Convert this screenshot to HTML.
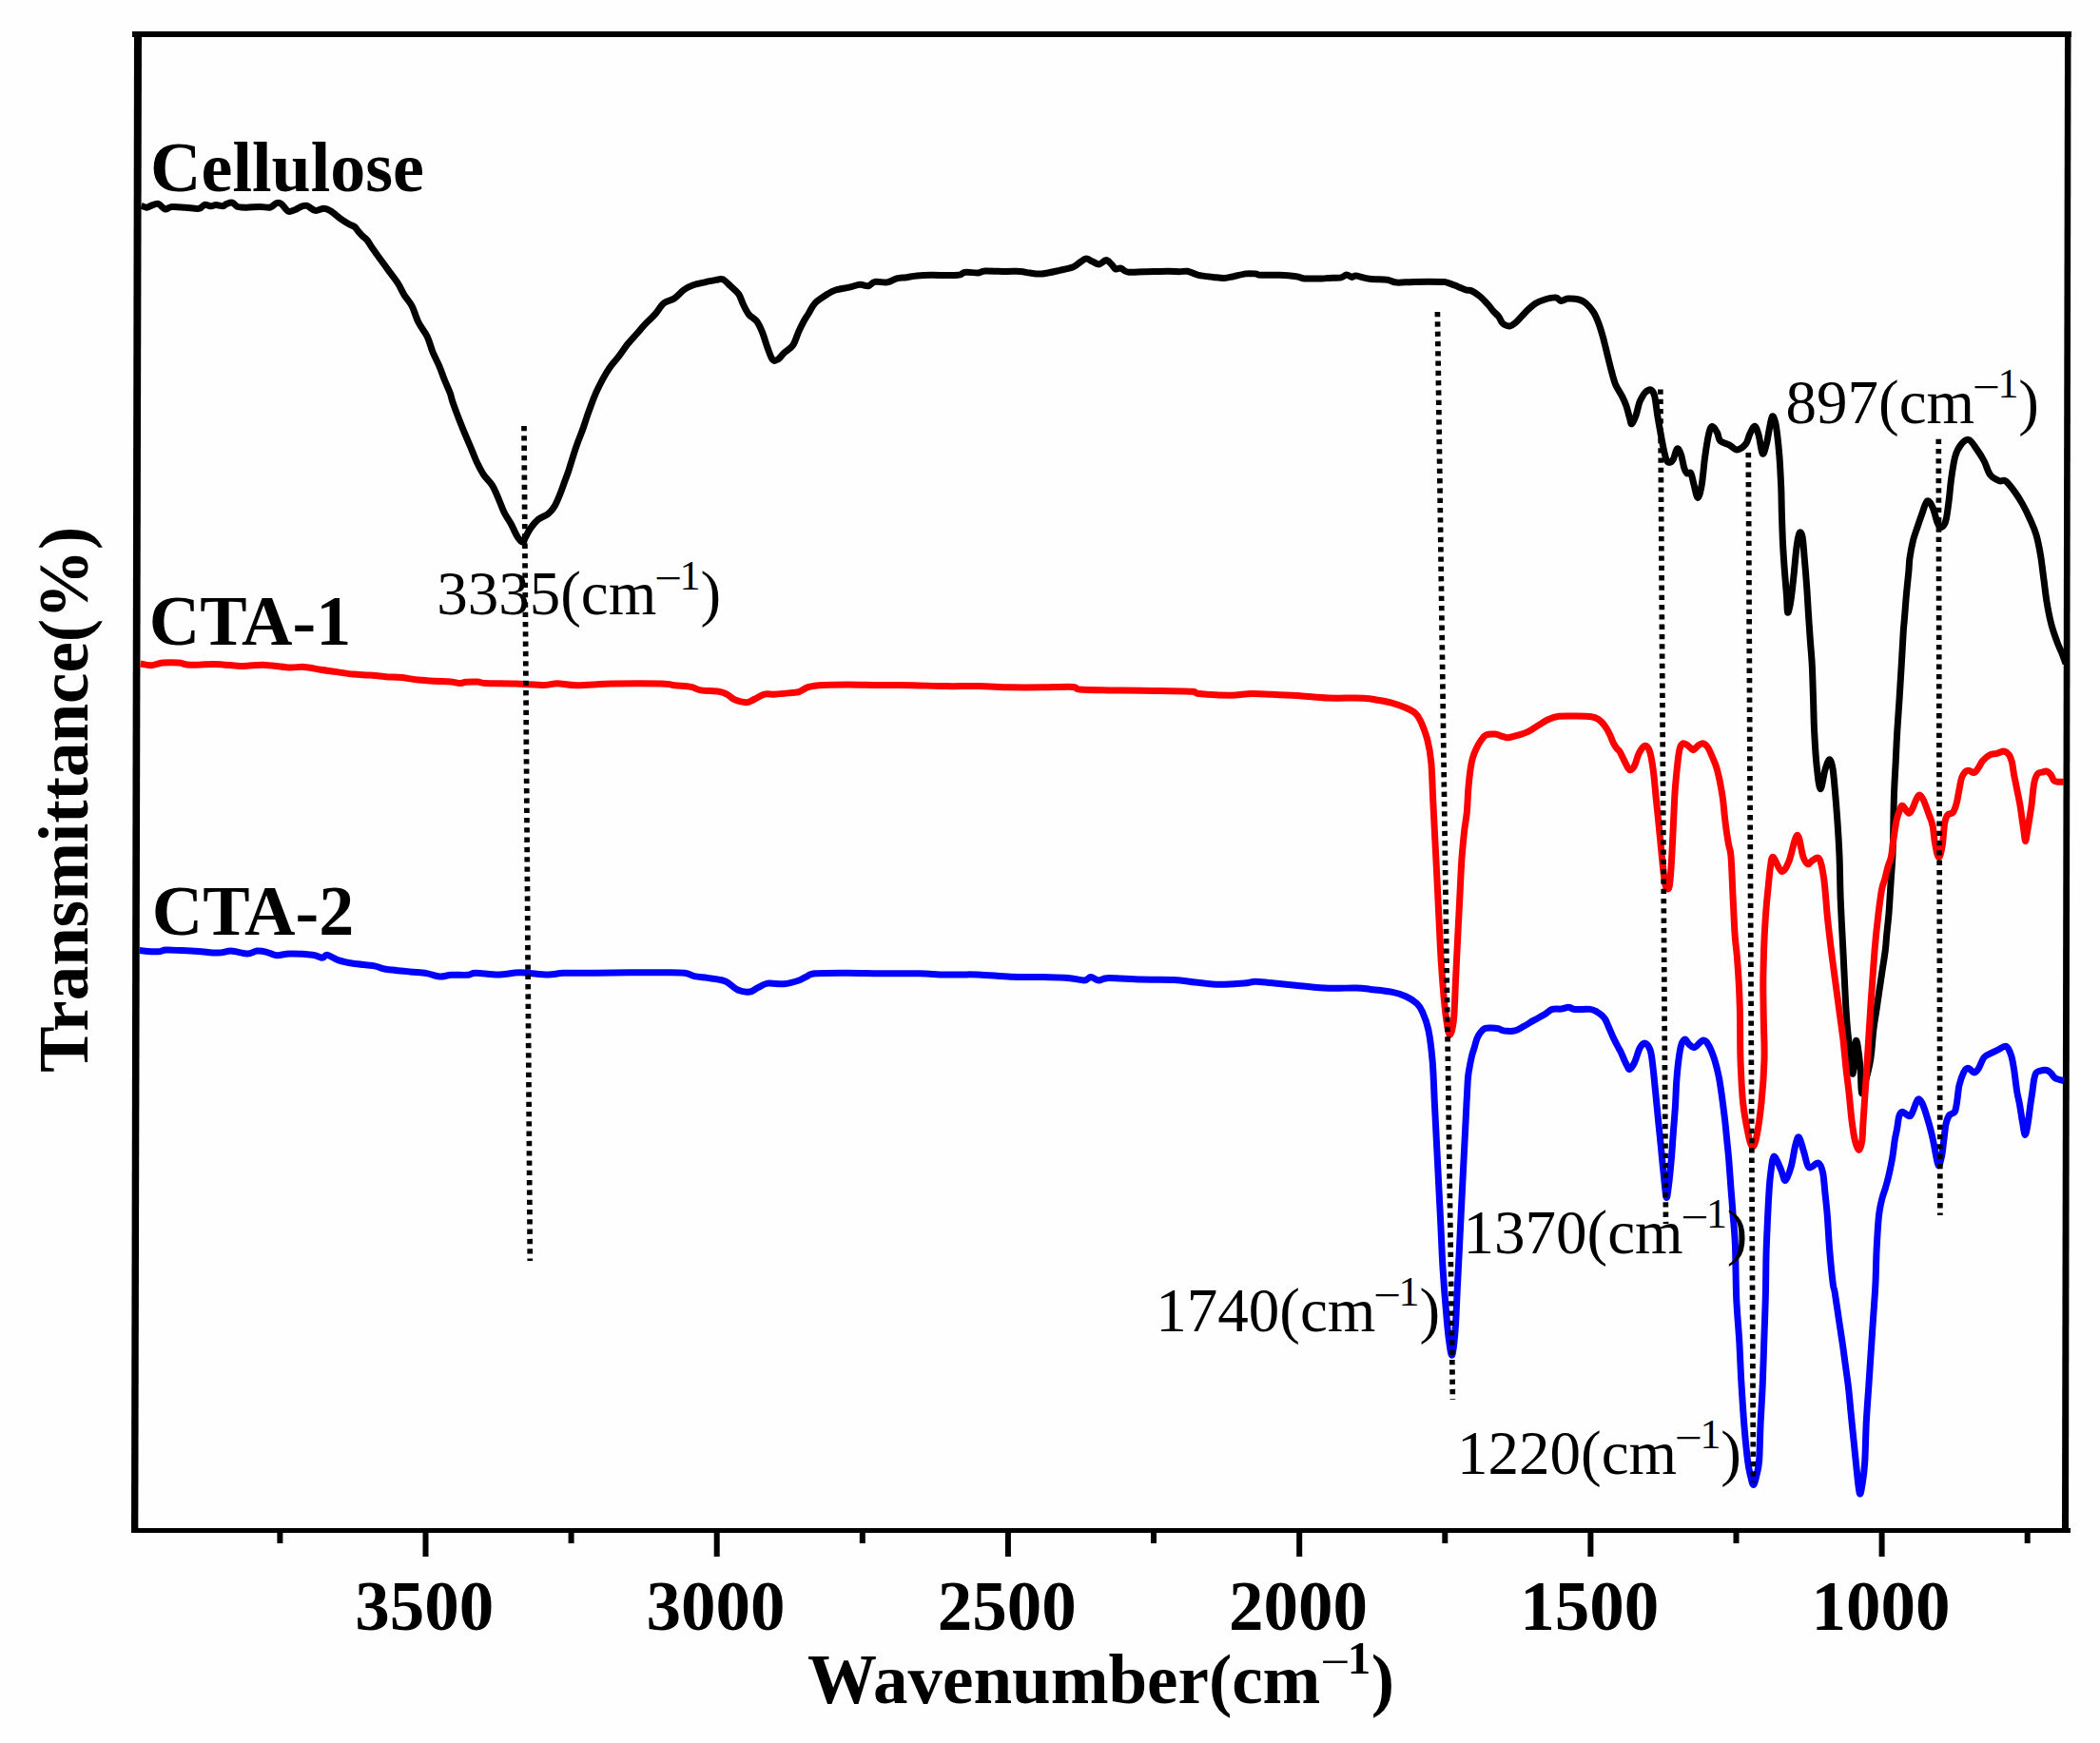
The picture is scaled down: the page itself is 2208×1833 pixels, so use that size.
<!DOCTYPE html>
<html><head><meta charset="utf-8"><style>
html,body{margin:0;padding:0;background:#fefefe;}
svg{display:block;}
text{font-family:"Liberation Serif","Times New Roman",serif;}
.tl{font-size:73px;font-weight:bold;text-anchor:middle;}
.lb{font-size:74px;font-weight:bold;}
.ax{font-size:73px;font-weight:bold;}
.an{font-size:65px;}
.sup{font-size:44px;}
.supr{font-size:49px;}
.supb{font-size:49px;font-weight:bold;}
</style></head><body>
<svg width="2208" height="1833" viewBox="0 0 2208 1833" xmlns="http://www.w3.org/2000/svg">
<rect width="2208" height="1833" fill="#fefefe"/>
<polygon points="141,33 149,33 145.3,1612 138,1612" fill="#000"/>
<rect x="139" y="33" width="2039" height="6" fill="#000"/>
<polygon points="2171,33 2177.5,33 2175,1612 2168,1612" fill="#000"/>
<rect x="138" y="1607" width="2039" height="5" fill="#000"/>
<rect x="444.5" y="1611" width="6" height="26" fill="#000"/>
<text x="446.3" y="1714" class="tl">3500</text>
<rect x="750.7" y="1611" width="6" height="26" fill="#000"/>
<text x="752.5" y="1714" class="tl">3000</text>
<rect x="1056.9" y="1611" width="6" height="26" fill="#000"/>
<text x="1058.7" y="1714" class="tl">2500</text>
<rect x="1363.2" y="1611" width="6" height="26" fill="#000"/>
<text x="1365.0" y="1714" class="tl">2000</text>
<rect x="1669.4" y="1611" width="6" height="26" fill="#000"/>
<text x="1671.2" y="1714" class="tl">1500</text>
<rect x="1975.6" y="1611" width="6" height="26" fill="#000"/>
<text x="1977.4" y="1714" class="tl">1000</text>
<rect x="291.4" y="1611" width="6" height="12" fill="#000"/>
<rect x="597.6" y="1611" width="6" height="12" fill="#000"/>
<rect x="903.8" y="1611" width="6" height="12" fill="#000"/>
<rect x="1210.0" y="1611" width="6" height="12" fill="#000"/>
<rect x="1516.3" y="1611" width="6" height="12" fill="#000"/>
<rect x="1822.5" y="1611" width="6" height="12" fill="#000"/>
<rect x="2128.7" y="1611" width="6" height="12" fill="#000"/>
<path d="M148.6,216.4C149.6,216.7 152.5,218.2 154.3,218.2C156.1,218.1 157.3,216.8 159.3,216.1C161.3,215.4 164.0,213.7 166.4,214.3C168.8,215.0 171.2,219.5 173.6,220.0C176.0,220.5 177.1,217.8 180.7,217.5C184.3,217.2 190.2,217.9 195.0,218.2C199.8,218.5 206.0,219.8 209.3,219.3C212.6,218.8 212.9,215.8 215.0,215.4C217.1,215.0 220.1,216.8 222.1,216.8C224.1,216.8 225.1,215.4 227.1,215.4C229.1,215.4 232.5,216.9 234.3,216.8C236.1,216.7 236.2,215.2 237.9,214.6C239.6,214.0 242.3,212.7 244.3,213.2C246.3,213.7 247.5,216.7 250.0,217.5C252.5,218.3 255.4,218.2 259.3,218.2C263.2,218.2 269.4,217.5 273.6,217.5C277.8,217.5 281.5,218.7 284.3,218.0C287.1,217.3 288.8,214.2 290.7,213.6C292.6,213.0 293.7,212.9 295.7,214.3C297.7,215.7 300.5,221.0 302.9,222.1C305.3,223.2 307.6,221.5 310.0,220.7C312.4,219.9 315.0,217.8 317.1,217.1C319.2,216.4 320.5,215.7 322.9,216.4C325.3,217.1 328.4,220.9 331.4,221.4C334.4,221.9 337.9,219.2 340.7,219.3C343.4,219.4 345.8,220.9 347.9,222.1C350.0,223.3 351.6,224.8 353.6,226.4C355.6,228.0 357.8,229.9 360.0,231.4C362.2,232.9 365.0,234.5 367.1,235.7C369.2,236.9 371.3,237.4 372.9,238.6C374.4,239.8 375.0,241.3 376.4,242.9C377.8,244.5 379.4,246.4 381.0,248.0C382.6,249.6 384.4,250.5 386.0,252.5C387.6,254.5 388.4,256.5 390.7,259.8C393.0,263.1 396.8,268.3 399.8,272.5C402.9,276.7 405.9,280.9 409.0,285.1C412.1,289.3 415.5,293.5 418.2,297.7C420.9,301.9 422.6,306.3 425.1,310.3C427.6,314.3 430.6,317.0 433.1,321.8C435.6,326.6 437.3,333.6 440.0,339.0C442.7,344.4 446.7,348.7 449.2,353.9C451.7,359.1 452.8,364.8 454.9,370.0C457.0,375.2 459.7,379.9 461.8,384.9C463.9,389.9 465.6,395.0 467.5,399.8C469.4,404.6 471.9,409.9 473.3,413.6C474.7,417.4 474.3,418.0 475.8,422.3C477.3,426.6 479.9,433.8 482.1,439.5C484.3,445.2 486.7,451.1 489.0,456.7C491.3,462.2 493.8,467.8 495.9,472.8C498.0,477.8 499.5,482.2 501.6,486.6C503.7,491.0 505.8,495.2 508.5,499.2C511.2,503.2 515.0,506.2 517.7,510.6C520.4,515.0 522.5,520.8 524.6,525.6C526.7,530.4 528.2,535.1 530.3,539.3C532.4,543.5 534.9,546.6 537.2,550.8C539.5,555.0 542.0,561.4 544.1,564.6C546.2,567.9 548.5,570.1 549.8,570.3C551.1,570.5 550.8,568.2 552.1,565.7C553.5,563.2 555.6,558.6 557.9,555.4C560.2,552.1 562.8,548.7 565.9,546.2C569.0,543.7 573.3,542.8 576.2,540.5C579.1,538.2 581.0,535.9 583.1,532.4C585.2,528.9 587.1,524.0 588.8,519.8C590.5,515.6 591.9,511.4 593.4,507.2C594.9,503.0 596.5,499.2 598.0,494.6C599.5,490.0 601.1,484.5 602.6,479.7C604.1,474.9 605.5,470.7 607.2,465.9C608.9,461.1 611.2,455.8 612.9,451.0C614.6,446.2 616.1,441.4 617.5,437.2C618.9,433.0 620.0,430.1 621.5,426.0C623.0,421.9 624.7,417.5 626.7,412.9C628.8,408.3 631.4,403.0 633.8,398.6C636.2,394.2 638.2,390.7 641.0,386.7C643.8,382.7 647.3,379.0 650.5,374.8C653.7,370.6 656.8,365.7 660.0,361.7C663.2,357.7 666.5,354.4 669.5,351.0C672.5,347.6 674.7,344.8 677.9,341.4C681.1,338.0 685.2,334.5 688.6,330.7C692.0,326.9 694.7,321.6 698.1,318.8C701.5,316.0 705.2,316.4 708.8,314.0C712.4,311.6 716.1,306.9 719.5,304.5C722.9,302.1 725.4,301.1 729.0,299.8C732.6,298.5 737.0,297.7 741.0,296.8C745.0,295.9 749.7,294.9 752.9,294.4C756.1,293.9 757.4,292.7 760.0,293.8C762.6,294.9 765.5,298.4 768.3,301.0C771.1,303.6 774.5,306.1 776.7,309.3C778.9,312.5 779.6,316.4 781.4,320.0C783.2,323.6 785.0,327.7 787.4,330.7C789.8,333.7 793.3,334.7 795.7,337.9C798.1,341.1 799.9,345.4 801.7,349.8C803.5,354.2 804.6,359.2 806.4,364.0C808.2,368.8 810.4,376.0 812.4,378.3C814.4,380.6 816.3,378.9 818.3,377.7C820.3,376.5 821.7,373.7 824.3,371.2C826.9,368.7 831.2,366.7 833.8,362.9C836.4,359.1 837.8,353.0 839.8,348.6C841.8,344.2 844.0,339.8 845.7,336.7C847.4,333.6 848.1,333.0 850.0,330.0C851.9,327.0 853.8,322.1 857.1,318.6C860.4,315.2 866.4,311.6 870.0,309.3C873.6,307.0 874.8,306.2 878.6,305.0C882.4,303.8 888.6,303.1 892.9,302.1C897.2,301.2 901.0,299.5 904.3,299.3C907.6,299.1 910.3,301.2 912.9,300.7C915.5,300.2 916.7,297.0 920.0,296.4C923.3,295.8 929.1,297.5 932.9,296.9C936.7,296.3 939.6,293.8 942.9,292.9C946.2,292.0 949.3,292.2 952.9,291.7C956.5,291.2 960.0,290.4 964.3,290.0C968.6,289.6 971.5,289.4 978.6,289.3C985.7,289.2 1001.2,289.8 1007.1,289.3C1013.0,288.8 1010.7,286.8 1014.3,286.4C1017.9,286.0 1025.0,287.1 1028.6,286.9C1032.2,286.7 1031.0,285.2 1035.7,285.0C1040.5,284.8 1050.9,285.3 1057.1,285.4C1063.3,285.5 1068.6,285.1 1072.9,285.4C1077.2,285.7 1079.1,286.7 1082.9,287.1C1086.7,287.5 1090.5,288.4 1095.7,287.9C1100.9,287.4 1108.8,285.5 1114.3,284.3C1119.8,283.1 1125.0,282.1 1128.6,280.7C1132.2,279.3 1133.5,277.1 1135.7,275.7C1138.0,274.3 1139.9,272.2 1142.1,272.1C1144.2,272.0 1146.3,274.0 1148.6,275.0C1150.9,276.0 1153.3,278.1 1155.7,277.9C1158.1,277.7 1160.8,273.6 1162.9,273.6C1165.1,273.6 1166.9,276.3 1168.6,277.9C1170.3,279.4 1171.2,282.2 1172.9,282.9C1174.6,283.6 1176.5,281.6 1178.6,282.1C1180.7,282.6 1181.4,285.5 1185.7,286.1C1190.0,286.7 1197.2,285.8 1204.3,285.7C1211.4,285.6 1222.6,285.3 1228.6,285.3C1234.5,285.3 1236.7,285.7 1240.0,285.7C1243.3,285.7 1245.3,284.7 1248.6,285.3C1251.9,285.9 1255.5,288.3 1260.0,289.3C1264.5,290.3 1271.2,290.9 1275.7,291.4C1280.2,291.9 1283.5,292.5 1287.1,292.4C1290.7,292.3 1293.3,291.4 1297.1,290.7C1300.9,289.9 1306.2,288.4 1310.0,287.9C1313.8,287.4 1317.4,287.7 1320.0,287.9C1322.6,288.1 1321.4,289.1 1325.7,289.3C1330.0,289.5 1339.5,289.1 1345.7,289.3C1351.9,289.5 1358.6,290.1 1362.9,290.7C1367.2,291.3 1366.9,292.5 1371.4,292.9C1375.9,293.3 1385.7,293.0 1390.0,292.9C1394.3,292.8 1393.8,292.6 1397.1,292.4C1400.4,292.2 1406.9,292.5 1410.0,291.9C1413.1,291.3 1413.8,289.1 1415.7,289.0C1417.6,288.9 1419.7,291.2 1421.4,291.4C1423.1,291.6 1422.6,289.7 1425.7,290.0C1428.8,290.3 1434.5,292.5 1440.0,293.2C1445.5,293.9 1453.8,293.6 1458.6,294.3C1463.4,295.0 1463.8,296.8 1468.6,297.1C1473.3,297.5 1479.2,296.5 1487.1,296.4C1494.9,296.3 1510.0,296.3 1515.7,296.4C1521.4,296.5 1518.5,296.3 1521.4,297.1C1524.3,297.9 1529.6,300.1 1532.9,301.4C1536.2,302.7 1539.0,304.3 1541.4,305.0C1543.8,305.7 1544.7,304.6 1547.1,305.7C1549.5,306.8 1552.8,309.0 1555.7,311.4C1558.6,313.8 1561.9,317.4 1564.3,320.0C1566.7,322.6 1568.1,325.0 1570.0,327.1C1571.9,329.2 1574.0,330.8 1575.7,332.9C1577.4,335.0 1578.1,338.3 1580.0,340.0C1581.9,341.7 1584.7,343.1 1587.1,342.9C1589.5,342.7 1591.4,341.1 1594.3,338.6C1597.2,336.1 1601.0,331.1 1604.3,327.9C1607.6,324.7 1611.0,321.4 1614.3,319.3C1617.6,317.2 1620.7,316.1 1624.3,315.0C1627.9,313.9 1632.8,312.7 1635.7,312.9C1638.6,313.1 1639.2,316.2 1641.4,316.4C1643.6,316.6 1645.5,314.2 1648.6,314.0C1651.7,313.8 1656.9,314.2 1660.0,315.0C1663.1,315.8 1664.5,316.3 1667.1,318.6C1669.7,320.9 1673.3,324.8 1675.7,328.6C1678.1,332.4 1679.7,336.9 1681.4,341.4C1683.1,345.9 1684.3,350.4 1685.7,355.7C1687.1,360.9 1688.6,367.2 1690.0,372.9C1691.4,378.6 1692.9,384.8 1694.3,390.0C1695.7,395.2 1696.7,399.8 1698.6,404.3C1700.5,408.8 1703.8,413.3 1705.7,417.1C1707.6,420.9 1708.7,423.3 1710.0,427.1C1711.3,430.9 1712.6,436.9 1713.6,440.0C1714.5,443.1 1714.6,446.2 1715.7,445.7C1716.8,445.2 1718.7,440.7 1720.0,437.1C1721.3,433.5 1722.5,427.1 1723.5,424.0C1724.5,420.9 1725.1,420.1 1726.2,418.2C1727.3,416.3 1728.5,413.9 1730.0,412.5C1731.5,411.1 1733.9,409.3 1735.5,409.9C1737.1,410.5 1738.4,411.6 1739.6,416.1C1740.8,420.6 1741.7,430.4 1742.7,436.8C1743.7,443.2 1744.8,448.7 1745.8,454.4C1746.8,460.1 1747.9,466.1 1748.9,470.9C1749.9,475.7 1751.0,480.7 1752.0,483.3C1753.0,485.9 1753.9,486.4 1755.1,486.4C1756.3,486.4 1757.8,485.7 1759.2,483.3C1760.6,480.9 1762.0,472.8 1763.4,471.9C1764.8,471.0 1766.3,474.8 1767.5,478.1C1768.7,481.4 1769.6,488.2 1770.6,491.5C1771.6,494.8 1772.5,496.7 1773.7,497.7C1774.9,498.7 1776.6,495.8 1777.8,497.7C1779.0,499.6 1779.7,504.8 1780.9,509.1C1782.1,513.4 1783.7,523.3 1785.1,523.5C1786.5,523.7 1788.0,516.8 1789.2,510.1C1790.4,503.4 1791.3,491.2 1792.3,483.3C1793.3,475.4 1794.4,468.1 1795.4,462.6C1796.4,457.1 1797.5,452.4 1798.5,450.2C1799.5,448.0 1800.4,448.3 1801.6,449.2C1802.8,450.1 1804.5,453.0 1805.7,455.4C1806.9,457.8 1806.7,461.6 1808.8,463.7C1810.9,465.8 1815.2,466.3 1818.1,467.8C1821.0,469.3 1823.5,473.1 1826.4,472.9C1829.3,472.7 1833.5,469.4 1835.7,466.7C1837.9,463.9 1838.2,459.5 1839.8,456.4C1841.3,453.3 1843.5,448.0 1845.0,448.2C1846.5,448.4 1847.7,452.7 1849.1,457.5C1850.5,462.3 1851.8,475.6 1853.2,477.1C1854.6,478.6 1856.2,471.2 1857.4,466.7C1858.6,462.2 1859.5,455.0 1860.5,450.2C1861.5,445.4 1862.5,438.8 1863.5,437.8C1864.5,436.8 1865.7,440.7 1866.6,444.0C1867.5,447.3 1868.0,451.8 1868.7,457.5C1869.4,463.2 1870.3,472.1 1870.8,478.1C1871.3,484.1 1871.5,487.6 1871.8,493.6C1872.1,499.6 1872.5,506.6 1872.8,514.3C1873.1,522.0 1873.1,530.5 1873.4,540.0C1873.7,549.5 1874.0,560.7 1874.5,571.0C1875.0,581.3 1875.8,592.5 1876.5,602.0C1877.2,611.5 1878.1,620.8 1878.6,627.8C1879.1,634.8 1878.9,643.4 1879.6,644.3C1880.3,645.1 1881.7,639.1 1882.7,632.9C1883.7,626.7 1884.8,616.6 1885.8,607.1C1886.8,597.6 1887.9,583.9 1888.9,576.1C1889.9,568.4 1891.0,562.5 1892.0,560.6C1893.0,558.7 1894.2,560.5 1895.1,564.8C1896.0,569.1 1896.4,577.7 1897.2,586.5C1898.0,595.3 1899.0,607.9 1899.7,617.4C1900.4,626.9 1900.7,633.7 1901.3,643.2C1901.9,652.7 1902.7,664.7 1903.4,674.2C1904.1,683.7 1904.8,690.0 1905.3,700.0C1905.8,710.0 1906.1,722.9 1906.5,734.4C1906.9,745.9 1907.0,757.3 1907.6,768.8C1908.2,780.3 1908.9,793.1 1909.9,803.2C1911.0,813.3 1912.4,828.6 1913.9,829.6C1915.4,830.6 1917.5,814.1 1919.1,809.0C1920.7,803.9 1922.4,798.7 1923.7,798.7C1925.0,798.7 1926.1,803.5 1927.1,809.0C1928.0,814.5 1928.6,823.3 1929.4,831.9C1930.2,840.5 1930.9,849.2 1931.7,860.6C1932.5,872.0 1933.4,885.4 1934.0,900.0C1934.6,914.6 1934.6,931.5 1935.3,948.2C1936.0,964.9 1937.2,986.2 1937.9,1000.0C1938.6,1013.8 1938.9,1020.7 1939.4,1031.0C1939.9,1041.3 1940.4,1052.5 1941.0,1061.9C1941.6,1071.4 1942.2,1080.0 1943.0,1087.7C1943.8,1095.5 1944.7,1101.5 1945.6,1108.4C1946.5,1115.3 1947.2,1131.2 1948.2,1129.0C1949.2,1126.8 1950.3,1098.3 1951.3,1094.9C1952.3,1091.5 1953.6,1102.7 1954.4,1108.4C1955.2,1114.1 1955.9,1122.1 1956.4,1129.0C1956.9,1135.9 1956.6,1148.6 1957.5,1149.6C1958.4,1150.6 1960.5,1141.0 1962.0,1135.0C1963.5,1129.0 1965.5,1122.2 1966.8,1113.5C1968.1,1104.8 1968.9,1091.2 1969.9,1082.6C1970.9,1074.0 1972.0,1068.8 1973.0,1061.9C1974.0,1055.0 1975.0,1048.2 1976.0,1041.3C1977.0,1034.4 1978.1,1027.5 1979.1,1020.6C1980.1,1013.7 1981.4,1006.2 1982.2,1000.0C1983.0,993.8 1983.1,989.4 1983.7,983.2C1984.3,977.0 1985.2,969.5 1985.8,962.6C1986.4,955.7 1986.8,948.8 1987.2,941.9C1987.7,935.0 1988.0,928.2 1988.5,921.3C1989.0,914.4 1989.6,907.5 1989.9,900.6C1990.2,893.7 1990.3,890.5 1990.6,880.0C1990.8,869.5 1991.0,850.5 1991.4,837.7C1991.8,824.9 1992.5,814.7 1993.1,803.2C1993.7,791.7 1994.1,780.3 1994.8,768.8C1995.5,757.3 1996.4,745.9 1997.1,734.4C1997.8,722.9 1998.5,711.6 1999.2,700.0C1999.9,688.4 2000.7,672.9 2001.2,664.9C2001.7,656.9 2001.7,658.8 2002.3,651.9C2002.9,645.0 2003.8,631.9 2004.6,623.3C2005.4,614.7 2006.3,606.4 2006.9,600.3C2007.5,594.2 2007.2,591.9 2008.0,586.5C2008.8,581.1 2010.2,573.6 2011.5,568.2C2012.8,562.9 2014.5,559.0 2016.0,554.4C2017.5,549.8 2019.0,545.3 2020.7,540.7C2022.4,536.1 2024.5,528.0 2026.4,526.9C2028.3,525.8 2030.4,530.2 2032.1,533.8C2033.8,537.4 2035.4,545.3 2036.7,548.7C2038.0,552.1 2038.9,553.9 2040.1,554.4C2041.3,554.9 2042.9,553.6 2044.0,552.0C2045.1,550.4 2045.6,549.5 2046.5,545.0C2047.4,540.5 2048.4,532.0 2049.3,525.0C2050.2,518.0 2050.6,510.5 2051.7,503.0C2052.8,495.5 2054.0,486.1 2055.7,480.1C2057.4,474.2 2059.7,470.2 2062.1,467.3C2064.5,464.4 2067.4,461.7 2070.1,462.5C2072.8,463.3 2075.5,468.4 2078.2,472.1C2080.9,475.9 2083.8,480.4 2086.2,485.0C2088.6,489.6 2089.9,495.9 2092.6,499.4C2095.3,502.9 2099.6,504.7 2102.3,505.8C2105.0,506.9 2106.0,503.9 2108.7,505.8C2111.4,507.7 2115.4,513.1 2118.3,517.1C2121.2,521.1 2123.7,525.1 2126.4,529.9C2129.1,534.7 2132.0,540.6 2134.4,546.0C2136.8,551.4 2138.9,555.6 2140.8,562.0C2142.7,568.4 2144.3,576.7 2145.6,584.5C2146.9,592.3 2147.7,600.6 2148.8,608.6C2149.9,616.6 2150.7,624.7 2152.0,632.7C2153.3,640.7 2155.0,649.6 2156.9,656.8C2158.8,664.0 2161.4,671.0 2163.3,676.1C2165.2,681.2 2166.7,683.6 2168.1,687.3C2169.5,690.9 2171.3,696.2 2172.0,698.0" fill="none" stroke="#000" stroke-width="7" stroke-linejoin="round" stroke-linecap="butt"/>
<path d="M147.7,698.0C149.6,698.3 155.0,699.9 158.9,699.7C162.8,699.6 166.1,697.5 170.9,697.1C175.8,696.7 183.2,696.8 188.0,697.1C192.8,697.5 193.7,699.0 200.0,699.2C206.3,699.4 217.4,698.3 225.7,698.5C234.0,698.7 244.0,699.9 249.7,700.2C255.4,700.5 255.4,700.5 260.0,700.3C264.6,700.1 270.1,698.9 277.2,699.2C284.3,699.5 295.8,701.5 302.9,701.9C310.0,702.3 314.3,701.0 320.0,701.4C325.7,701.8 331.5,703.4 337.2,704.3C342.9,705.2 348.6,705.8 354.3,706.6C360.0,707.4 365.7,708.5 371.4,709.1C377.1,709.7 382.9,709.6 388.6,710.0C394.3,710.4 400.0,711.3 405.7,711.7C411.4,712.1 417.2,712.0 422.9,712.6C428.6,713.2 434.3,714.5 440.0,715.1C445.7,715.7 451.5,716.0 457.2,716.3C462.9,716.6 470.0,716.5 474.3,716.9C478.6,717.3 480.3,718.5 482.9,718.6C485.5,718.7 486.8,717.6 490.0,717.3C493.2,717.0 498.6,716.8 502.0,717.0C505.4,717.2 504.0,718.2 510.6,718.5C517.2,718.8 531.1,718.7 541.4,719.0C551.7,719.3 564.9,720.4 572.3,720.4C579.7,720.4 580.3,718.7 586.0,718.7C591.7,718.8 596.9,720.7 606.6,720.7C616.3,720.8 629.4,719.3 644.3,719.0C659.1,718.7 684.9,718.7 695.7,719.0C706.6,719.3 704.2,720.1 709.4,720.7C714.5,721.3 722.0,721.5 726.6,722.4C731.2,723.3 732.0,725.1 736.9,725.9C741.8,726.7 751.1,726.5 755.7,727.2C760.3,727.9 761.4,728.6 764.3,730.1C767.2,731.6 769.5,734.7 772.9,736.1C776.3,737.5 781.5,738.8 784.9,738.7C788.3,738.6 790.3,736.7 793.4,735.3C796.5,733.9 800.0,731.0 803.7,730.1C807.4,729.2 810.8,730.4 815.7,730.1C820.6,729.8 828.9,728.8 832.9,728.4C836.9,728.0 837.1,728.6 840.0,727.6C842.9,726.6 846.0,723.6 850.3,722.4C854.6,721.2 858.9,720.8 865.7,720.4C872.6,720.0 881.4,719.9 891.4,719.9C901.4,719.9 914.3,720.3 925.7,720.4C937.1,720.5 948.6,720.5 960.0,720.7C971.4,720.9 982.9,721.5 994.3,721.6C1005.7,721.8 1017.2,721.4 1028.6,721.6C1040.0,721.8 1051.5,722.6 1062.9,722.8C1074.3,723.0 1086.2,722.9 1097.1,722.8C1107.9,722.7 1121.7,722.0 1128.0,722.4C1134.3,722.8 1128.6,724.4 1134.9,725.0C1141.2,725.6 1154.9,725.7 1165.7,725.9C1176.5,726.1 1191.0,726.1 1200.0,726.2C1209.0,726.3 1210.6,726.4 1219.5,726.6C1228.4,726.8 1246.6,726.8 1253.5,727.3C1260.4,727.8 1254.3,728.8 1260.9,729.5C1267.5,730.2 1284.2,731.3 1293.3,731.3C1302.4,731.3 1308.1,729.7 1315.5,729.5C1322.9,729.3 1329.0,729.9 1337.6,730.3C1346.2,730.7 1357.2,731.1 1367.1,731.7C1376.9,732.3 1385.6,733.6 1396.7,734.0C1407.8,734.4 1425.0,733.8 1433.6,734.2C1442.2,734.6 1443.4,735.4 1448.3,736.2C1453.2,737.0 1458.2,737.8 1463.1,739.1C1468.0,740.5 1473.7,742.4 1477.9,744.3C1482.1,746.1 1485.6,747.9 1488.2,750.2C1490.8,752.5 1491.4,753.5 1493.5,758.0C1495.6,762.5 1498.7,769.9 1500.6,777.2C1502.5,784.5 1503.8,790.9 1504.8,801.9C1505.8,812.9 1506.1,829.4 1506.8,843.2C1507.5,857.0 1508.2,870.7 1508.9,884.5C1509.6,898.3 1510.3,912.0 1511.0,925.8C1511.7,939.6 1512.3,953.3 1513.0,967.1C1513.7,980.9 1514.2,994.6 1515.1,1008.4C1516.0,1022.2 1517.1,1038.1 1518.2,1049.7C1519.3,1061.3 1520.5,1071.6 1521.6,1078.0C1522.7,1084.4 1523.6,1089.0 1524.8,1088.0C1526.0,1087.0 1527.5,1081.8 1528.5,1072.0C1529.5,1062.2 1529.9,1043.0 1530.6,1029.0C1531.3,1015.0 1531.9,1001.5 1532.6,987.7C1533.3,973.9 1534.0,960.1 1534.7,946.4C1535.4,932.6 1536.0,917.1 1536.8,905.2C1537.6,893.3 1538.6,883.5 1539.5,875.0C1540.4,866.5 1541.6,861.8 1542.3,854.3C1543.0,846.8 1543.2,837.6 1543.8,830.0C1544.4,822.4 1545.3,814.1 1546.1,808.6C1546.9,803.1 1547.4,800.7 1548.4,797.1C1549.4,793.5 1550.7,790.4 1552.2,787.2C1553.7,784.0 1555.7,780.5 1557.5,778.1C1559.3,775.7 1560.5,773.8 1562.9,772.8C1565.3,771.8 1569.2,771.8 1572.0,772.0C1574.8,772.2 1577.3,773.7 1579.6,774.3C1581.9,774.9 1582.8,776.0 1585.7,775.8C1588.6,775.5 1593.7,773.8 1597.1,772.8C1600.5,771.8 1603.1,771.2 1606.3,769.7C1609.5,768.2 1612.7,765.8 1616.2,763.6C1619.8,761.5 1623.8,758.5 1627.6,756.8C1631.4,755.1 1634.5,753.9 1639.0,753.3C1643.5,752.7 1648.6,752.9 1654.3,753.0C1660.0,753.1 1668.8,753.1 1673.3,753.7C1677.8,754.3 1678.7,755.3 1681.0,756.8C1683.3,758.3 1685.1,760.4 1687.0,762.9C1688.9,765.4 1690.9,769.0 1692.4,772.0C1693.9,775.0 1694.9,778.6 1696.2,781.1C1697.5,783.6 1698.8,785.6 1700.0,787.2C1701.2,788.8 1701.8,788.4 1703.2,790.6C1704.6,792.9 1706.5,797.6 1708.2,800.7C1709.9,803.9 1711.6,808.7 1713.3,809.5C1715.0,810.3 1716.6,808.7 1718.3,805.7C1720.0,802.8 1721.5,795.4 1723.4,791.8C1725.3,788.2 1727.8,784.5 1729.7,784.3C1731.6,784.1 1733.2,786.0 1734.7,790.6C1736.2,795.2 1737.5,804.2 1738.5,812.0C1739.5,819.8 1740.2,828.9 1741.0,837.3C1741.8,845.7 1742.8,854.1 1743.6,862.5C1744.4,870.9 1745.3,879.3 1746.1,887.7C1746.9,896.1 1747.8,905.8 1748.6,913.0C1749.4,920.2 1750.3,927.3 1751.1,931.0C1751.9,934.7 1752.5,935.0 1753.2,935.0C1753.9,935.0 1754.7,935.7 1755.4,931.0C1756.1,926.3 1756.8,917.1 1757.4,906.7C1758.1,896.3 1758.7,881.4 1759.3,868.8C1759.9,856.2 1760.5,841.8 1761.2,830.9C1762.0,820.0 1763.0,810.6 1763.8,803.2C1764.6,795.9 1765.2,790.4 1766.3,786.8C1767.3,783.2 1768.6,782.1 1770.1,781.7C1771.6,781.3 1773.4,783.1 1775.1,784.3C1776.8,785.5 1778.5,788.7 1780.2,788.7C1781.9,788.7 1783.5,785.5 1785.2,784.3C1786.9,783.1 1788.6,781.5 1790.3,781.7C1792.0,781.9 1793.7,783.4 1795.3,785.5C1796.9,787.6 1798.2,790.9 1799.7,794.3C1801.2,797.7 1803.0,801.9 1804.3,805.7C1805.6,809.5 1806.4,813.3 1807.3,817.1C1808.2,820.9 1808.8,824.2 1809.6,828.6C1810.4,833.0 1811.3,838.7 1811.9,843.8C1812.5,848.9 1812.8,853.9 1813.4,859.0C1814.0,864.1 1814.6,869.5 1815.3,874.3C1816.0,879.1 1816.7,883.6 1817.5,888.0C1818.3,892.4 1819.2,891.7 1820.0,900.7C1820.8,909.7 1821.3,928.2 1822.0,942.0C1822.7,955.8 1823.4,973.0 1824.1,983.3C1824.8,993.6 1825.5,995.4 1826.2,1004.0C1826.9,1012.6 1827.8,1025.6 1828.3,1034.9C1828.8,1044.2 1829.1,1052.5 1829.3,1060.0C1829.5,1067.5 1829.5,1070.9 1829.6,1080.0C1829.7,1089.1 1829.5,1101.5 1830.0,1114.7C1830.5,1127.9 1831.3,1146.5 1832.6,1159.4C1833.9,1172.3 1836.4,1184.3 1838.0,1192.0C1839.6,1199.7 1840.8,1204.8 1842.3,1205.5C1843.8,1206.2 1845.2,1203.7 1846.8,1196.0C1848.4,1188.3 1850.6,1173.0 1852.0,1159.4C1853.4,1145.9 1854.6,1127.9 1855.0,1114.7C1855.4,1101.5 1854.7,1089.1 1854.5,1080.0C1854.3,1070.9 1854.2,1067.5 1854.1,1060.0C1854.0,1052.5 1853.8,1042.7 1853.8,1035.0C1853.8,1027.3 1854.0,1021.0 1854.2,1014.0C1854.4,1007.0 1854.5,999.8 1854.8,993.0C1855.1,986.2 1855.4,979.8 1855.8,973.0C1856.2,966.2 1856.7,958.9 1857.3,952.0C1857.9,945.1 1858.6,938.3 1859.3,931.5C1860.0,924.7 1860.7,916.0 1861.5,911.0C1862.3,906.0 1862.5,900.6 1864.4,901.5C1866.4,902.4 1870.5,915.5 1873.2,916.3C1875.9,917.1 1878.1,912.5 1880.8,906.2C1883.5,899.9 1887.1,879.2 1889.6,878.4C1892.1,877.5 1894.0,896.0 1895.9,901.1C1897.8,906.2 1899.3,908.1 1900.9,908.7C1902.5,909.4 1903.5,905.9 1905.5,905.0C1907.5,904.1 1910.9,900.0 1912.9,903.2C1914.9,906.4 1916.2,913.6 1917.7,924.1C1919.2,934.6 1920.3,953.8 1921.6,966.4C1922.9,979.0 1924.2,989.2 1925.5,1000.0C1926.8,1010.8 1928.2,1020.7 1929.6,1031.0C1931.0,1041.3 1932.3,1051.6 1933.7,1061.9C1935.1,1072.2 1936.7,1082.6 1937.9,1092.9C1939.1,1103.2 1940.0,1114.3 1941.0,1123.8C1942.0,1133.2 1943.1,1140.2 1944.1,1149.6C1945.1,1159.0 1946.1,1171.6 1947.2,1180.0C1948.3,1188.4 1949.3,1195.1 1950.5,1200.0C1951.7,1204.9 1953.3,1209.5 1954.5,1209.5C1955.7,1209.5 1957.0,1204.9 1957.8,1200.0C1958.5,1195.1 1958.2,1192.5 1959.0,1180.0C1959.8,1167.5 1961.4,1144.8 1962.7,1124.9C1964.0,1105.0 1965.3,1081.4 1966.7,1060.6C1968.1,1039.8 1969.7,1016.3 1971.0,1000.0C1972.3,983.7 1973.5,973.4 1974.8,962.6C1976.1,951.8 1977.4,941.4 1978.6,935.1C1979.8,928.8 1980.6,928.7 1981.7,924.7C1982.8,920.7 1984.0,915.0 1985.1,911.0C1986.2,907.0 1987.5,905.8 1988.5,900.6C1989.5,895.4 1990.3,886.4 1991.3,880.0C1992.2,873.6 1993.1,866.9 1994.2,862.0C1995.3,857.1 1997.0,853.1 1998.0,850.7C1999.0,848.3 1999.0,846.8 2000.5,847.5C2002.0,848.2 2005.1,854.6 2006.8,855.1C2008.5,855.6 2008.9,853.8 2010.6,850.7C2012.3,847.7 2015.0,838.5 2016.9,836.8C2018.8,835.1 2020.1,837.2 2022.0,840.6C2023.9,844.0 2026.6,852.4 2028.3,857.0C2030.0,861.6 2031.0,863.4 2032.1,868.4C2033.1,873.4 2033.5,881.8 2034.6,887.3C2035.6,892.8 2037.1,901.1 2038.4,901.5C2039.7,901.9 2041.2,895.1 2042.2,889.4C2043.2,883.6 2043.6,872.4 2044.5,867.0C2045.4,861.6 2046.0,859.4 2047.5,857.3C2049.0,855.2 2051.8,856.4 2053.4,854.3C2055.0,852.2 2056.1,848.7 2057.2,844.6C2058.3,840.5 2059.2,834.1 2060.1,829.7C2061.0,825.4 2061.4,821.5 2062.4,818.5C2063.4,815.5 2064.8,813.2 2066.1,811.8C2067.3,810.4 2068.3,810.2 2069.9,810.3C2071.5,810.4 2074.1,813.0 2075.8,812.5C2077.5,812.0 2078.8,809.4 2080.3,807.3C2081.8,805.2 2082.8,802.1 2084.8,799.9C2086.8,797.7 2089.7,795.1 2092.2,793.9C2094.7,792.6 2097.2,793.0 2099.7,792.4C2102.2,791.8 2105.1,789.9 2107.2,790.1C2109.3,790.4 2111.0,792.0 2112.4,793.9C2113.8,795.8 2114.5,797.8 2115.4,801.3C2116.3,804.8 2116.7,810.1 2117.6,814.8C2118.5,819.5 2119.6,824.7 2120.6,829.7C2121.6,834.7 2122.7,839.6 2123.6,844.6C2124.5,849.6 2125.1,854.6 2125.8,859.6C2126.5,864.6 2127.4,870.4 2128.0,874.5C2128.6,878.6 2129.0,884.5 2129.6,884.5C2130.2,884.5 2130.9,878.6 2131.6,874.5C2132.3,870.4 2133.2,864.6 2134.0,859.6C2134.8,854.6 2135.7,849.6 2136.3,844.6C2136.9,839.6 2137.2,834.1 2137.8,829.7C2138.4,825.4 2139.1,821.2 2140.0,818.5C2140.9,815.8 2141.6,814.4 2143.0,813.3C2144.4,812.2 2146.7,812.2 2148.2,811.8C2149.7,811.4 2150.5,810.5 2151.9,811.0C2153.3,811.5 2155.2,813.2 2156.4,814.8C2157.7,816.4 2158.3,819.5 2159.4,820.7C2160.5,821.9 2161.3,822.0 2163.1,822.2C2164.9,822.5 2168.8,822.2 2170.0,822.2" fill="none" stroke="#f00" stroke-width="7" stroke-linejoin="round" stroke-linecap="butt"/>
<path d="M146.9,999.6C150.0,999.8 161.1,1000.9 165.7,1000.8C170.3,1000.7 170.0,999.3 174.3,999.1C178.6,998.9 185.7,999.4 191.4,999.6C197.1,999.8 202.3,1000.0 208.6,1000.4C214.9,1000.8 223.4,1002.1 229.1,1002.1C234.8,1002.1 237.8,1000.0 242.9,1000.1C248.1,1000.2 255.4,1003.0 260.0,1003.0C264.6,1003.0 266.9,1000.4 270.3,1000.1C273.7,999.8 277.2,1000.5 280.6,1001.3C284.0,1002.1 286.9,1004.4 290.9,1004.7C294.9,1005.0 298.3,1003.1 304.6,1003.0C310.9,1002.9 322.9,1003.5 328.6,1004.2C334.3,1004.9 336.3,1007.3 338.9,1007.3C341.5,1007.3 341.1,1003.8 344.0,1004.2C346.9,1004.6 351.4,1008.4 356.0,1009.9C360.6,1011.4 365.1,1012.3 371.4,1013.3C377.7,1014.3 388.0,1014.9 393.7,1015.9C399.4,1016.9 399.4,1018.3 405.7,1019.3C412.0,1020.3 424.2,1021.2 431.4,1021.9C438.5,1022.6 443.5,1022.8 448.6,1023.6C453.8,1024.5 458.0,1026.7 462.3,1027.0C466.6,1027.3 469.5,1025.6 474.3,1025.3C479.1,1025.0 487.1,1025.6 491.4,1025.3C495.7,1025.0 494.8,1023.3 500.3,1023.3C505.8,1023.2 516.6,1025.1 524.3,1025.0C532.0,1024.9 538.0,1022.8 546.6,1022.8C555.2,1022.8 568.0,1024.9 575.7,1025.0C583.4,1025.1 584.3,1023.6 592.9,1023.3C601.5,1023.0 615.7,1023.4 627.1,1023.3C638.5,1023.2 650.0,1022.9 661.4,1022.8C672.8,1022.7 686.0,1022.7 695.7,1022.8C705.4,1022.9 714.0,1022.6 719.7,1023.3C725.4,1023.9 726.0,1025.8 730.0,1026.7C734.0,1027.6 739.4,1027.8 743.7,1028.4C748.0,1029.0 752.3,1029.4 755.7,1030.1C759.1,1030.8 760.9,1030.8 764.3,1032.7C767.7,1034.6 772.3,1039.6 776.3,1041.3C780.3,1043.0 784.9,1043.4 788.3,1043.0C791.7,1042.6 793.8,1040.2 796.9,1038.7C800.0,1037.2 802.6,1034.8 807.2,1034.1C811.8,1033.4 818.8,1035.3 824.3,1034.8C829.8,1034.3 836.0,1032.3 840.0,1031.0C844.0,1029.7 845.8,1027.9 848.6,1026.7C851.5,1025.5 850.0,1024.4 857.1,1023.8C864.2,1023.2 880.0,1023.3 891.4,1023.3C902.8,1023.3 913.1,1023.7 925.7,1023.8C938.3,1023.9 955.5,1023.6 966.9,1023.8C978.3,1024.0 984.0,1024.8 994.3,1025.0C1004.6,1025.2 1017.2,1024.6 1028.6,1025.0C1040.0,1025.4 1051.5,1026.8 1062.9,1027.2C1074.3,1027.6 1087.1,1027.4 1097.1,1027.6C1107.1,1027.8 1115.8,1027.8 1122.9,1028.4C1130.1,1029.0 1136.0,1031.1 1140.0,1031.0C1144.0,1030.9 1144.3,1027.6 1146.9,1027.6C1149.5,1027.6 1152.3,1030.9 1155.4,1031.0C1158.5,1031.1 1158.3,1028.6 1165.7,1028.4C1173.1,1028.2 1188.6,1029.8 1200.0,1030.1C1211.4,1030.4 1224.9,1029.9 1234.3,1030.4C1243.7,1030.9 1249.0,1032.2 1256.4,1033.0C1263.8,1033.8 1271.2,1035.0 1278.6,1035.3C1286.0,1035.5 1295.3,1034.8 1300.7,1034.5C1306.1,1034.2 1307.8,1034.2 1311.0,1033.8C1314.2,1033.4 1315.5,1032.3 1319.9,1032.3C1324.3,1032.3 1329.7,1033.1 1337.6,1033.8C1345.5,1034.5 1357.2,1035.8 1367.1,1036.7C1376.9,1037.6 1386.8,1038.8 1396.7,1039.2C1406.6,1039.6 1418.8,1038.8 1426.2,1039.0C1433.6,1039.2 1434.8,1039.7 1441.0,1040.4C1447.2,1041.1 1456.9,1041.9 1463.1,1043.1C1469.2,1044.3 1473.5,1045.8 1477.9,1047.8C1482.3,1049.8 1486.8,1052.5 1489.7,1055.2C1492.6,1057.9 1493.5,1059.4 1495.5,1064.0C1497.5,1068.6 1500.0,1074.1 1501.8,1082.7C1503.6,1091.3 1505.0,1102.7 1506.1,1115.4C1507.2,1128.1 1507.6,1144.4 1508.3,1158.9C1509.0,1173.4 1509.8,1188.0 1510.5,1202.5C1511.2,1217.0 1512.0,1231.6 1512.7,1246.1C1513.4,1260.6 1514.2,1275.1 1514.9,1289.6C1515.6,1304.1 1516.1,1318.7 1517.0,1333.2C1517.9,1347.7 1519.2,1364.3 1520.3,1376.8C1521.3,1389.3 1522.2,1400.0 1523.3,1408.0C1524.4,1416.0 1525.7,1426.6 1526.8,1425.0C1527.9,1423.4 1529.2,1410.3 1530.1,1398.6C1531.0,1386.9 1531.6,1369.5 1532.3,1355.0C1533.0,1340.5 1533.8,1325.9 1534.5,1311.4C1535.2,1296.9 1535.9,1282.4 1536.6,1267.9C1537.3,1253.4 1538.1,1238.8 1538.8,1224.3C1539.5,1209.8 1540.3,1195.2 1541.0,1180.7C1541.7,1166.2 1542.6,1146.5 1543.2,1137.1C1543.8,1127.7 1544.1,1128.6 1544.8,1124.2C1545.5,1119.8 1546.6,1114.3 1547.5,1110.5C1548.4,1106.7 1549.4,1104.4 1550.3,1101.3C1551.2,1098.2 1551.9,1094.7 1553.0,1092.1C1554.1,1089.5 1555.3,1087.5 1556.7,1085.7C1558.1,1084.0 1559.4,1082.4 1561.3,1081.6C1563.2,1080.8 1565.9,1081.1 1568.2,1081.1C1570.5,1081.1 1573.2,1081.2 1575.1,1081.6C1577.0,1082.0 1578.0,1083.0 1579.5,1083.5C1581.0,1084.0 1582.1,1084.2 1584.3,1084.3C1586.5,1084.4 1589.9,1084.7 1592.9,1083.9C1595.9,1083.1 1598.8,1081.1 1602.1,1079.3C1605.4,1077.5 1609.3,1074.9 1612.9,1072.9C1616.5,1070.9 1620.4,1069.0 1623.6,1067.1C1626.8,1065.2 1629.1,1062.4 1632.1,1061.4C1635.1,1060.4 1638.5,1061.4 1641.4,1061.1C1644.3,1060.8 1646.9,1059.2 1649.3,1059.3C1651.7,1059.3 1651.9,1061.1 1655.7,1061.4C1659.5,1061.8 1668.2,1060.9 1672.1,1061.4C1676.0,1061.9 1677.3,1063.2 1679.3,1064.3C1681.3,1065.4 1682.9,1066.6 1684.3,1067.9C1685.7,1069.2 1686.7,1070.1 1687.9,1072.1C1689.1,1074.1 1690.1,1077.0 1691.4,1080.0C1692.7,1083.0 1694.2,1086.7 1695.7,1090.0C1697.2,1093.3 1699.3,1097.3 1700.7,1100.0C1702.1,1102.7 1703.1,1103.9 1704.3,1106.4C1705.5,1108.9 1706.7,1112.4 1707.9,1115.0C1709.1,1117.6 1710.5,1120.5 1711.4,1122.1C1712.4,1123.6 1712.4,1125.1 1713.6,1124.3C1714.8,1123.5 1716.9,1120.8 1718.7,1117.1C1720.5,1113.4 1722.4,1105.3 1724.2,1102.0C1726.0,1098.7 1727.9,1096.6 1729.7,1097.1C1731.5,1097.5 1733.8,1100.5 1735.2,1104.7C1736.6,1109.0 1737.1,1115.0 1738.0,1122.6C1738.9,1130.2 1739.9,1141.0 1740.8,1150.2C1741.7,1159.4 1742.6,1168.5 1743.5,1177.7C1744.4,1186.9 1745.4,1196.0 1746.3,1205.2C1747.2,1214.4 1748.0,1223.8 1749.0,1232.8C1750.0,1241.8 1751.1,1256.7 1752.0,1259.0C1752.9,1261.3 1753.6,1253.3 1754.5,1246.6C1755.4,1239.9 1756.5,1228.2 1757.3,1219.0C1758.1,1209.8 1758.6,1200.7 1759.3,1191.5C1760.0,1182.3 1760.8,1173.1 1761.4,1163.9C1762.0,1154.7 1762.2,1144.4 1762.8,1136.4C1763.4,1128.4 1764.0,1121.9 1764.8,1115.7C1765.6,1109.5 1766.4,1103.0 1767.6,1099.2C1768.8,1095.4 1770.3,1093.2 1771.7,1093.0C1773.1,1092.8 1774.3,1096.9 1776.0,1098.3C1777.7,1099.7 1779.4,1102.0 1781.9,1101.3C1784.4,1100.6 1788.4,1094.2 1790.9,1093.9C1793.4,1093.7 1794.8,1096.3 1796.8,1099.8C1798.8,1103.3 1801.0,1109.2 1802.8,1114.7C1804.5,1120.2 1806.0,1126.4 1807.3,1132.6C1808.5,1138.8 1809.3,1145.0 1810.3,1152.0C1811.3,1159.0 1812.3,1167.0 1813.2,1174.4C1814.1,1181.9 1814.8,1189.2 1815.5,1196.7C1816.2,1204.2 1817.0,1210.4 1817.7,1219.1C1818.4,1227.8 1819.2,1239.0 1819.9,1248.9C1820.7,1258.8 1821.5,1268.8 1822.2,1278.7C1823.0,1288.6 1823.8,1294.2 1824.4,1308.5C1825.0,1322.8 1825.0,1348.0 1825.7,1364.8C1826.4,1381.6 1827.8,1394.7 1828.7,1409.6C1829.6,1424.5 1830.0,1439.4 1830.9,1454.3C1831.8,1469.2 1832.8,1485.4 1833.9,1499.1C1835.0,1512.8 1836.5,1527.6 1837.6,1536.4C1838.7,1545.2 1839.5,1547.8 1840.5,1552.0C1841.5,1556.2 1842.5,1561.5 1843.6,1561.5C1844.6,1561.5 1845.8,1556.2 1846.8,1552.0C1847.8,1547.8 1848.9,1545.2 1849.6,1536.4C1850.3,1527.6 1850.4,1512.8 1851.0,1499.1C1851.6,1485.4 1852.7,1469.2 1853.3,1454.3C1853.9,1439.4 1854.3,1424.5 1854.8,1409.6C1855.3,1394.7 1855.9,1379.7 1856.3,1364.8C1856.7,1349.9 1856.7,1331.9 1857.0,1320.0C1857.3,1308.1 1857.6,1303.0 1858.0,1293.6C1858.4,1284.2 1858.9,1272.5 1859.4,1263.8C1859.9,1255.1 1860.2,1248.9 1860.9,1241.4C1861.7,1234.0 1862.9,1223.1 1863.9,1219.1C1864.9,1215.1 1865.4,1215.6 1866.9,1217.6C1868.4,1219.6 1871.2,1227.0 1872.9,1231.0C1874.6,1235.0 1875.6,1242.2 1877.3,1241.4C1879.0,1240.7 1881.5,1232.7 1883.3,1226.5C1885.0,1220.3 1886.4,1209.3 1887.8,1204.2C1889.2,1199.1 1890.0,1194.8 1891.5,1196.0C1893.0,1197.2 1895.0,1206.3 1896.7,1211.6C1898.5,1216.9 1899.5,1225.9 1902.0,1227.8C1904.5,1229.7 1909.3,1222.2 1911.7,1223.0C1914.1,1223.8 1915.3,1227.5 1916.5,1232.7C1917.7,1237.9 1918.1,1246.7 1918.9,1254.3C1919.7,1261.9 1920.5,1268.4 1921.3,1278.4C1922.1,1288.5 1922.7,1302.5 1923.7,1314.6C1924.7,1326.6 1926.4,1343.3 1927.3,1350.7C1928.2,1358.1 1928.1,1352.6 1929.1,1358.7C1930.1,1364.8 1932.0,1377.8 1933.4,1387.4C1934.8,1397.0 1936.5,1407.7 1937.7,1416.1C1938.9,1424.5 1939.6,1430.4 1940.6,1437.6C1941.6,1444.8 1942.5,1450.7 1943.5,1459.1C1944.5,1467.5 1945.3,1478.2 1946.3,1487.8C1947.2,1497.4 1948.2,1506.9 1949.2,1516.5C1950.2,1526.1 1951.1,1536.2 1952.1,1545.2C1953.1,1554.2 1954.3,1568.0 1955.3,1570.5C1956.3,1573.0 1957.3,1565.4 1958.2,1560.0C1959.1,1554.6 1960.0,1548.8 1960.7,1538.0C1961.4,1527.2 1961.6,1508.4 1962.3,1495.3C1963.0,1482.2 1963.9,1471.2 1964.7,1459.2C1965.5,1447.2 1966.3,1435.0 1967.1,1423.0C1967.9,1411.0 1968.7,1399.0 1969.5,1386.9C1970.3,1374.9 1971.3,1362.8 1971.9,1350.7C1972.5,1338.7 1972.5,1326.6 1973.1,1314.6C1973.7,1302.5 1974.5,1287.5 1975.5,1278.4C1976.5,1269.3 1977.8,1264.9 1979.0,1260.0C1980.2,1255.1 1981.2,1253.4 1982.5,1249.0C1983.8,1244.6 1985.3,1238.9 1986.5,1233.4C1987.7,1227.9 1989.0,1221.9 1989.9,1216.2C1990.9,1210.5 1991.4,1203.8 1992.2,1199.0C1993.0,1194.2 1993.7,1191.7 1994.5,1187.5C1995.3,1183.3 1995.8,1176.8 1996.8,1173.7C1997.8,1170.7 1998.5,1169.2 2000.2,1169.2C2001.9,1169.2 2005.4,1173.5 2007.1,1173.7C2008.8,1173.9 2009.1,1173.2 2010.6,1170.3C2012.1,1167.4 2014.6,1158.2 2016.3,1156.5C2018.0,1154.8 2019.4,1157.3 2020.9,1160.0C2022.4,1162.7 2023.8,1167.1 2025.5,1172.6C2027.2,1178.1 2029.7,1186.9 2031.2,1193.2C2032.7,1199.5 2033.6,1205.1 2034.7,1210.5C2035.8,1215.9 2037.0,1224.8 2038.1,1225.7C2039.2,1226.7 2040.5,1220.7 2041.5,1216.2C2042.5,1211.8 2043.0,1204.7 2043.8,1199.0C2044.6,1193.3 2045.1,1186.2 2046.1,1181.8C2047.1,1177.4 2048.1,1174.7 2049.6,1172.6C2051.1,1170.5 2054.0,1171.5 2055.3,1169.2C2056.6,1166.9 2056.8,1163.4 2057.6,1158.8C2058.4,1154.2 2058.8,1146.8 2059.9,1141.6C2061.1,1136.4 2063.0,1131.0 2064.5,1127.9C2066.0,1124.9 2067.2,1123.3 2069.1,1123.3C2071.0,1123.3 2074.1,1127.9 2076.0,1127.9C2077.9,1127.9 2078.8,1126.0 2080.5,1123.3C2082.2,1120.6 2084.0,1114.5 2086.3,1111.8C2088.6,1109.1 2091.8,1108.5 2094.3,1107.2C2096.8,1105.9 2098.7,1105.0 2101.2,1103.8C2103.7,1102.6 2107.0,1099.3 2109.2,1100.3C2111.4,1101.3 2113.2,1105.7 2114.6,1109.8C2116.0,1113.9 2116.6,1118.6 2117.6,1124.8C2118.6,1131.0 2119.6,1141.0 2120.6,1147.2C2121.6,1153.4 2122.6,1156.5 2123.6,1162.1C2124.6,1167.7 2125.6,1175.5 2126.6,1180.7C2127.6,1185.9 2128.4,1193.5 2129.3,1193.5C2130.2,1193.5 2131.4,1185.9 2132.3,1180.7C2133.2,1175.5 2134.0,1167.7 2134.8,1162.1C2135.6,1156.5 2136.4,1151.5 2137.0,1147.2C2137.6,1142.9 2137.9,1139.1 2138.5,1136.0C2139.1,1132.9 2139.7,1130.1 2140.7,1128.5C2141.7,1126.9 2142.5,1126.8 2144.4,1126.3C2146.3,1125.8 2149.9,1125.1 2151.9,1125.5C2153.9,1125.9 2154.9,1127.1 2156.4,1128.5C2157.9,1129.9 2158.6,1132.3 2160.9,1133.7C2163.2,1135.1 2168.5,1136.2 2170.0,1136.7" fill="none" stroke="#00f" stroke-width="7" stroke-linejoin="round" stroke-linecap="butt"/>
<line x1="551.0" y1="448" x2="557.3" y2="1326" stroke="#000" stroke-width="5.7" stroke-dasharray="5.3 5.0"/>
<line x1="1511.4" y1="328" x2="1527.4" y2="1472" stroke="#000" stroke-width="5.7" stroke-dasharray="5.3 5.0"/>
<line x1="1745.8" y1="409.4" x2="1751.5" y2="1287" stroke="#000" stroke-width="5.7" stroke-dasharray="5.3 5.0"/>
<line x1="1838.3" y1="476" x2="1843.5" y2="1559" stroke="#000" stroke-width="5.7" stroke-dasharray="5.3 5.0"/>
<line x1="2038.3" y1="461.7" x2="2039.9" y2="1278" stroke="#000" stroke-width="5.7" stroke-dasharray="5.3 5.0"/>
<text x="158.1" y="201" class="lb">Cellulose</text>
<text x="156.8" y="678" class="lb">CTA-1</text>
<text x="159.8" y="983" class="lb">CTA-2</text>
<text x="459.2" y="646.4" class="an">3335(cm</text>
<text transform="translate(688.2,623.2) scale(1.167,1)" class="sup">−</text>
<text x="714.5" y="619.6" class="sup">1</text>
<text x="736.4" y="646.4" class="an">)</text>
<text x="1877.5" y="445" class="an">897(cm</text>
<text transform="translate(2074.0,421.8) scale(1.167,1)" class="sup">−</text>
<text x="2100.4" y="418.2" class="sup">1</text>
<text x="2122.3" y="445" class="an">)</text>
<text x="1538.6" y="1318" class="an">1370(cm</text>
<text transform="translate(1767.6,1294.8) scale(1.167,1)" class="sup">−</text>
<text x="1793.9" y="1291.2" class="sup">1</text>
<text x="1815.8" y="1318" class="an">)</text>
<text x="1215.3" y="1400.2" class="an">1740(cm</text>
<text transform="translate(1444.3,1377.0) scale(1.167,1)" class="sup">−</text>
<text x="1470.6" y="1373.4" class="sup">1</text>
<text x="1492.5" y="1400.2" class="an">)</text>
<text x="1532.1" y="1549.8" class="an">1220(cm</text>
<text transform="translate(1761.1,1526.6) scale(1.167,1)" class="sup">−</text>
<text x="1787.4" y="1523.0" class="sup">1</text>
<text x="1809.3" y="1549.8" class="an">)</text>
<text x="849.1" y="1790.8" class="ax">Wavenumber(cm</text>
<text transform="translate(1388.6,1764.3) scale(1.123,1)" class="supr">−</text>
<text x="1416.7" y="1760" class="supb">1</text>
<text x="1441.8" y="1790.8" class="ax">)</text>
<text transform="translate(92,1128) rotate(-90)" x="0" y="0" class="ax">Transmittance(%)</text>
</svg></body></html>
